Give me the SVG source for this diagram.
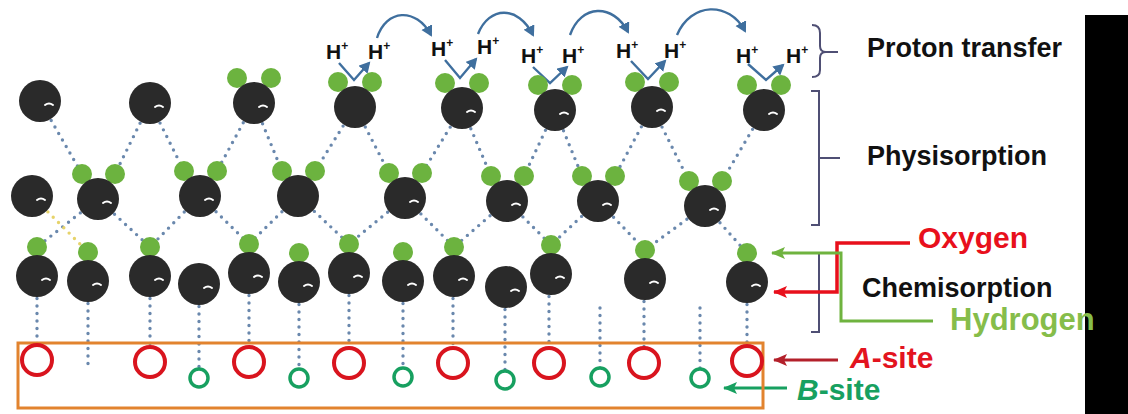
<svg xmlns="http://www.w3.org/2000/svg" width="1128" height="414" viewBox="0 0 1128 414">
  <defs>
    <style>
      .o{fill:#2a2a2a}
      .h{fill:#6cb33f}
      .mk{fill:none;stroke:#fff;stroke-width:2;stroke-linecap:round}
      .dot{fill:none;stroke:#6a88ad;stroke-width:3.4;stroke-linecap:round;stroke-dasharray:0 7.5}
      .ysite{fill:#fff;stroke:#d9141e;stroke-width:4}
      .bsite{fill:#fff;stroke:#17a060;stroke-width:3.5}
      .hop{fill:none;stroke:#3f6f9e;stroke-width:2.4}
      .brk{fill:none;stroke:#4f4f74;stroke-width:2}
      .lbl{font-family:"Liberation Sans",Arial,Helvetica,sans-serif;font-weight:bold}
    </style>
    <marker id="ahop" markerUnits="userSpaceOnUse" markerWidth="14" markerHeight="14" refX="9" refY="6" orient="auto">
      <path d="M0,0 L11,6 L0,12 Z" fill="#3f6f9e"/>
    </marker>
    <marker id="ared" markerUnits="userSpaceOnUse" markerWidth="16" markerHeight="14" refX="13" refY="6" orient="auto">
      <path d="M0,0 L14,6 L0,12 L3,6 Z" fill="#e8101c"/>
    </marker>
    <marker id="agrn" markerUnits="userSpaceOnUse" markerWidth="16" markerHeight="14" refX="13" refY="6" orient="auto">
      <path d="M0,0 L14,6 L0,12 L3,6 Z" fill="#6fb33f"/>
    </marker>
    <marker id="adred" markerUnits="userSpaceOnUse" markerWidth="16" markerHeight="14" refX="13" refY="6" orient="auto">
      <path d="M0,0 L14,6 L0,12 L3,6 Z" fill="#b3202b"/>
    </marker>
    <marker id="ateal" markerUnits="userSpaceOnUse" markerWidth="16" markerHeight="14" refX="13" refY="6" orient="auto">
      <path d="M0,0 L14,6 L0,12 L3,6 Z" fill="#17a060"/>
    </marker>
  </defs>

  <rect width="1128" height="414" fill="#fff"/>
  <rect id="side-bar" x="1085" y="15" width="43" height="399" fill="#000"/>

  <!-- hydrogen-bond network and label connectors -->
  <g id="connectors">
    <path class="dot" d="M40 101 L82 174 M150 103 L115 174 M150 103 L184 171 M254 103 L217 171 M254 103 L282 171 M355 107 L315 171 M355 107 L389 173 M462 108 L422 173 M462 108 L491 176 M555 110 L524 176 M555 110 L582 176 M652 107 L615 176 M652 107 L689 181 M764 110 L722 181"/>
    <path class="dot" d="M98 199 L37 247 M98 199 L150 247 M200 196 L150 247 M200 196 L249 244 M298 196 L249 244 M298 196 L349 244 M405 198 L349 244 M405 198 L454 247 M507 201 L454 247 M507 201 L551 245 M598 201 L551 245 M598 201 L645 250 M705 206 L645 250 M705 206 L747 253"/>
    <path class="dot" style="stroke:#e6d36a" d="M32 196 L88 252"/>
    <path class="dot" d="M37 276 L37 360 M88 281 L88 364 M150 276 L150 362 M199 284 L199 378 M249 273 L249 362 M299 282 L299 378 M349 273 L349 363 M403 281 L403 377 M453 276 L453 363 M505 287 L505 380 M549 274 L549 363 M600 308 L600 377 M644 279 L644 363 M700 308 L700 378 M747 282 L747 361"/>

    <!-- proton hopping -->
    <path class="hop" marker-end="url(#ahop)" d="M339 63 L354 80 L369 63"/>
    <path class="hop" marker-end="url(#ahop)" d="M445 60 L460 78 L476 59"/>
    <path class="hop" marker-end="url(#ahop)" d="M533 67 L550 83 L567 67"/>
    <path class="hop" marker-end="url(#ahop)" d="M631 61 L648 79 L665 61"/>
    <path class="hop" marker-end="url(#ahop)" d="M748 64 L766 80 L783 65"/>
    <path class="hop" marker-end="url(#ahop)" d="M377 38 C386 9 416 7 431 35"/>
    <path class="hop" marker-end="url(#ahop)" d="M478 34 C489 6 518 5 533 35"/>
    <path class="hop" marker-end="url(#ahop)" d="M570 35 C581 4 613 3 628 32"/>
    <path class="hop" marker-end="url(#ahop)" d="M677 35 C691 2 729 1 745 31"/>

    <!-- brackets -->
    <path class="brk" d="M812 25 Q820 25 820 33 L820 46 Q820 52 826 52 Q820 52 820 58 L820 70 Q820 77 812 77 M826 52 L838 52"/>
    <path class="brk" d="M811 91 L819 91 L819 225 L811 225 M819 158 L840 158"/>
    <path class="brk" d="M811 253 L819 253 L819 332 L811 332"/>

    <!-- element / site pointers -->
    <path fill="none" stroke="#e8101c" stroke-width="3.5" marker-end="url(#ared)" d="M910 243 L837 243 L837 292 L774 292"/>
    <path fill="none" stroke="#6fb33f" stroke-width="3" marker-end="url(#agrn)" d="M933 321 L841 321 L841 253 L772 253"/>
    <path fill="none" stroke="#b3202b" stroke-width="3" marker-end="url(#adred)" d="M838 360 L774 360"/>
    <path fill="none" stroke="#17a060" stroke-width="3" marker-end="url(#ateal)" d="M787 388 L724 388"/>
  </g>

  <!-- substrate with A and B sites -->
  <g id="substrate">
    <rect x="18" y="343" width="745" height="65" fill="none" stroke="#e2832e" stroke-width="3"/>
    <circle class="ysite" cx="37" cy="360" r="15"/>
    <circle class="ysite" cx="150" cy="362" r="15"/>
    <circle class="ysite" cx="249" cy="362" r="15"/>
    <circle class="ysite" cx="349" cy="363" r="15"/>
    <circle class="ysite" cx="453" cy="363" r="15"/>
    <circle class="ysite" cx="549" cy="363" r="15"/>
    <circle class="ysite" cx="644" cy="363" r="15"/>
    <circle class="ysite" cx="747" cy="361" r="15"/>
    <circle class="bsite" cx="199" cy="378" r="9"/>
    <circle class="bsite" cx="299" cy="378" r="9"/>
    <circle class="bsite" cx="403" cy="377" r="9"/>
    <circle class="bsite" cx="505" cy="380" r="9"/>
    <circle class="bsite" cx="600" cy="377" r="9"/>
    <circle class="bsite" cx="700" cy="378" r="9"/>
  </g>

  <!-- top physisorbed layer -->
  <g id="r1-1" transform="translate(40,101)"><circle class="o" r="21"/><path class="mk" d="M5 4q4-3 8 0"/></g>
  <g id="r1-2" transform="translate(150,103)"><circle class="o" r="21"/><path class="mk" d="M5 4q4-3 8 0"/></g>
  <g id="r1-3" transform="translate(254,103)"><circle class="h" cx="-17" cy="-25" r="10"/><circle class="h" cx="17" cy="-25" r="10"/><circle class="o" r="21"/><path class="mk" d="M5 4q4-3 8 0"/></g>
  <g id="r1-4" transform="translate(355,107)"><circle class="h" cx="-17" cy="-25" r="10"/><circle class="h" cx="17" cy="-25" r="10"/><circle class="o" r="21"/></g>
  <g id="r1-5" transform="translate(462,108)"><circle class="h" cx="-17" cy="-25" r="10"/><circle class="h" cx="17" cy="-25" r="10"/><circle class="o" r="21"/><path class="mk" d="M5 4q4-3 8 0"/></g>
  <g id="r1-6" transform="translate(555,110)"><circle class="h" cx="-17" cy="-25" r="10"/><circle class="h" cx="17" cy="-25" r="10"/><circle class="o" r="21"/><path class="mk" d="M5 4q4-3 8 0"/></g>
  <g id="r1-7" transform="translate(652,107)"><circle class="h" cx="-17" cy="-25" r="10"/><circle class="h" cx="17" cy="-25" r="10"/><circle class="o" r="21"/><path class="mk" d="M5 4q4-3 8 0"/></g>
  <g id="r1-8" transform="translate(764,110)"><circle class="h" cx="-17" cy="-25" r="10"/><circle class="h" cx="17" cy="-25" r="10"/><circle class="o" r="21"/><path class="mk" d="M5 4q4-3 8 0"/></g>

  <!-- second physisorbed layer -->
  <g id="r2-1" transform="translate(32,196)"><circle class="o" r="21"/><path class="mk" d="M5 4q4-3 8 0"/></g>
  <g id="r2-2" transform="translate(98,199)"><circle class="h" cx="-16" cy="-25" r="10"/><circle class="h" cx="17" cy="-25" r="10"/><circle class="o" r="21"/><path class="mk" d="M5 4q4-3 8 0"/></g>
  <g id="r2-3" transform="translate(200,196)"><circle class="h" cx="-16" cy="-25" r="10"/><circle class="h" cx="17" cy="-25" r="10"/><circle class="o" r="21"/><path class="mk" d="M5 4q4-3 8 0"/></g>
  <g id="r2-4" transform="translate(298,196)"><circle class="h" cx="-16" cy="-25" r="10"/><circle class="h" cx="17" cy="-25" r="10"/><circle class="o" r="21"/></g>
  <g id="r2-5" transform="translate(405,198)"><circle class="h" cx="-16" cy="-25" r="10"/><circle class="h" cx="17" cy="-25" r="10"/><circle class="o" r="21"/><path class="mk" d="M5 4q4-3 8 0"/></g>
  <g id="r2-6" transform="translate(507,201)"><circle class="h" cx="-16" cy="-25" r="10"/><circle class="h" cx="17" cy="-25" r="10"/><circle class="o" r="21"/><path class="mk" d="M5 4q4-3 8 0"/></g>
  <g id="r2-7" transform="translate(598,201)"><circle class="h" cx="-16" cy="-25" r="10"/><circle class="h" cx="17" cy="-25" r="10"/><circle class="o" r="21"/><path class="mk" d="M5 4q4-3 8 0"/></g>
  <g id="r2-8" transform="translate(705,206)"><circle class="h" cx="-16" cy="-25" r="10"/><circle class="h" cx="17" cy="-25" r="10"/><circle class="o" r="21"/><path class="mk" d="M5 4q4-3 8 0"/></g>

  <!-- chemisorbed layer -->
  <g id="r3-1" transform="translate(37,276)"><circle class="h" cy="-29" r="10"/><circle class="o" r="21"/><path class="mk" d="M5 4q4-3 8 0"/></g>
  <g id="r3-2" transform="translate(88,281)"><circle class="h" cy="-29" r="10"/><circle class="o" r="21"/><path class="mk" d="M5 4q4-3 8 0"/></g>
  <g id="r3-3" transform="translate(150,276)"><circle class="h" cy="-29" r="10"/><circle class="o" r="21"/><path class="mk" d="M5 4q4-3 8 0"/></g>
  <g id="r3-4" transform="translate(199,284)"><circle class="o" r="21"/><path class="mk" d="M5 4q4-3 8 0"/></g>
  <g id="r3-5" transform="translate(249,273)"><circle class="h" cy="-29" r="10"/><circle class="o" r="21"/><path class="mk" d="M5 4q4-3 8 0"/></g>
  <g id="r3-6" transform="translate(299,282)"><circle class="h" cy="-29" r="10"/><circle class="o" r="21"/><path class="mk" d="M5 4q4-3 8 0"/></g>
  <g id="r3-7" transform="translate(349,273)"><circle class="h" cy="-29" r="10"/><circle class="o" r="21"/><path class="mk" d="M5 4q4-3 8 0"/></g>
  <g id="r3-8" transform="translate(403,281)"><circle class="h" cy="-29" r="10"/><circle class="o" r="21"/><path class="mk" d="M5 4q4-3 8 0"/></g>
  <g id="r3-9" transform="translate(454,276)"><circle class="h" cy="-29" r="10"/><circle class="o" r="21"/><path class="mk" d="M5 4q4-3 8 0"/></g>
  <g id="r3-10" transform="translate(506,287)"><circle class="o" r="21"/><path class="mk" d="M5 4q4-3 8 0"/></g>
  <g id="r3-11" transform="translate(551,274)"><circle class="h" cy="-29" r="10"/><circle class="o" r="21"/><path class="mk" d="M5 4q4-3 8 0"/></g>
  <g id="r3-12" transform="translate(645,279)"><circle class="h" cy="-29" r="10"/><circle class="o" r="21"/><path class="mk" d="M5 4q4-3 8 0"/></g>
  <g id="r3-13" transform="translate(747,282)"><circle class="h" cy="-29" r="10"/><circle class="o" r="21"/><path class="mk" d="M5 4q4-3 8 0"/></g>

  <!-- protons -->
  <g id="protons" class="lbl" font-size="21" fill="#111">
    <text x="326" y="59">H<tspan font-size="12" dy="-9">+</tspan></text>
    <text x="368" y="59">H<tspan font-size="12" dy="-9">+</tspan></text>
    <text x="431" y="56">H<tspan font-size="12" dy="-9">+</tspan></text>
    <text x="477" y="54">H<tspan font-size="12" dy="-9">+</tspan></text>
    <text x="521" y="63">H<tspan font-size="12" dy="-9">+</tspan></text>
    <text x="562" y="63">H<tspan font-size="12" dy="-9">+</tspan></text>
    <text x="616" y="58">H<tspan font-size="12" dy="-9">+</tspan></text>
    <text x="664" y="58">H<tspan font-size="12" dy="-9">+</tspan></text>
    <text x="736" y="63">H<tspan font-size="12" dy="-9">+</tspan></text>
    <text x="786" y="63">H<tspan font-size="12" dy="-9">+</tspan></text>
  </g>

  <!-- labels -->
  <g id="labels" class="lbl">
    <text x="867" y="57" font-size="27" fill="#111">Proton transfer</text>
    <text x="867" y="165" font-size="27" fill="#111">Physisorption</text>
    <text x="862" y="297" font-size="27" fill="#111">Chemisorption</text>
    <text x="918" y="248" font-size="30" fill="#e8101c">Oxygen</text>
    <text x="950" y="330" font-size="31" fill="#86bd4a">Hydrogen</text>
    <text x="850" y="368" font-size="30" fill="#e3141f"><tspan font-style="italic">A</tspan>-site</text>
    <text x="797" y="400" font-size="30" fill="#17a060"><tspan font-style="italic">B</tspan>-site</text>
  </g>
</svg>
